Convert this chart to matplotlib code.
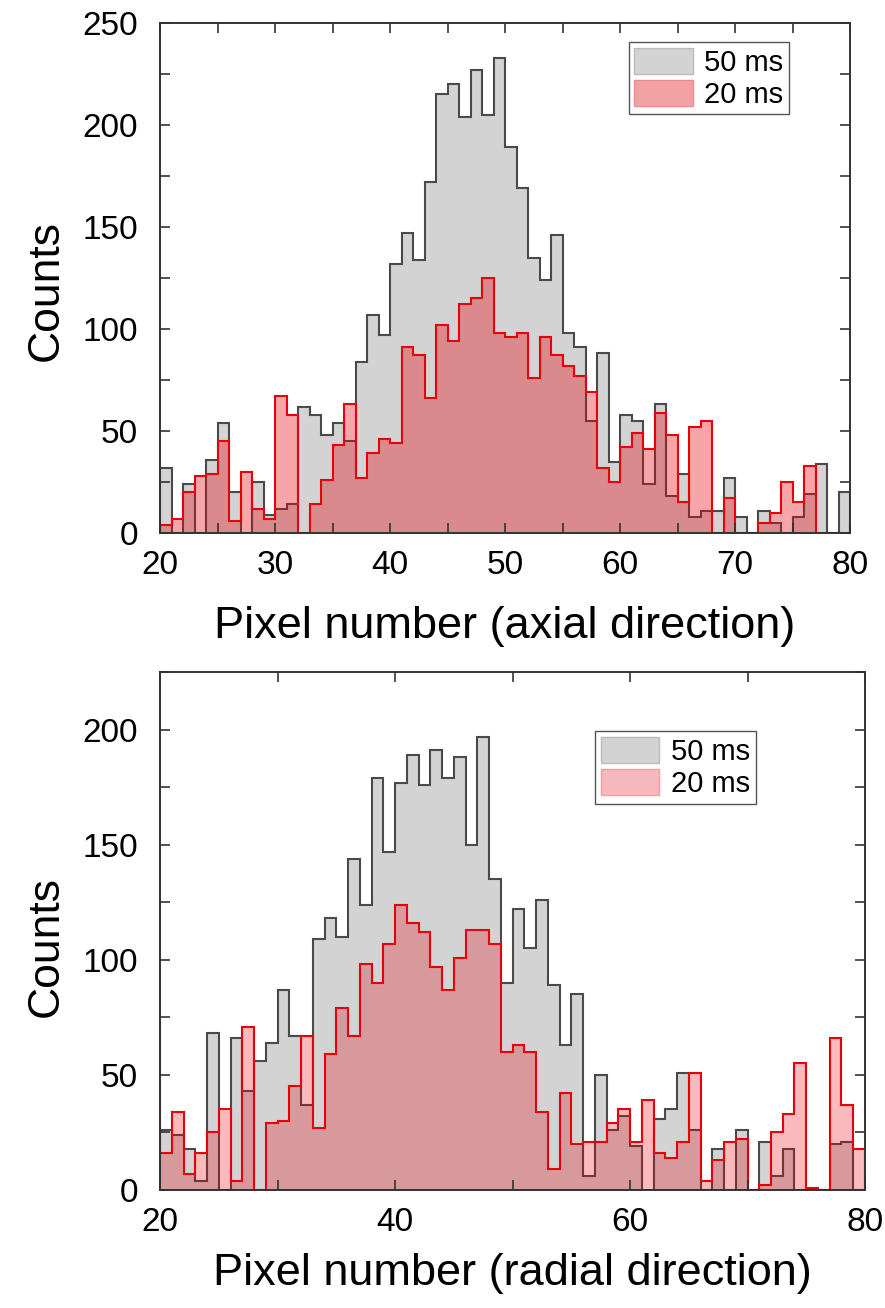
import numpy as np
import matplotlib
matplotlib.use("Agg")
import matplotlib.pyplot as plt
from matplotlib.patches import Patch
from matplotlib.ticker import MultipleLocator

plt.rcParams['font.family'] = ['Liberation Sans', 'DejaVu Sans']

# axial direction, one bin per pixel, first bin starts at pixel 20
axial_start = 20
axial_50ms = [32, 0, 24, 0, 36, 54, 20, 0, 25, 9,
              12, 14, 62, 58, 48, 54, 45, 84, 107, 97,
              132, 147, 134, 172, 215, 220, 204, 227, 205, 233,
              189, 169, 135, 124, 146, 98, 91, 55, 88, 35,
              58, 55, 24, 63, 18, 29, 8, 11, 11, 27,
              8, 0, 11, 5, 0, 8, 19, 34, 0, 20,
              0]
axial_20ms = [4, 7, 20, 28, 29, 45, 6, 30, 12, 7,
              67, 58, 0, 14, 26, 43, 63, 27, 39, 46,
              44, 91, 87, 66, 102, 94, 112, 115, 125, 98,
              96, 98, 76, 96, 87, 82, 77, 69, 32, 25,
              42, 49, 41, 59, 48, 15, 52, 55, 0, 17,
              0, 0, 5, 10, 25, 15, 33, 0, 0, 0,
              5]

# radial direction, first bin starts at pixel 19
radial_start = 19
radial_50ms = [0, 26, 24, 18, 4, 68, 0, 66, 43, 56,
               64, 87, 67, 37, 109, 118, 110, 144, 124, 179,
               147, 177, 189, 176, 191, 179, 188, 150, 197, 135,
               90, 122, 105, 126, 89, 63, 85, 6, 50, 26,
               32, 19, 0, 31, 35, 51, 26, 0, 18, 0,
               26, 0, 21, 6, 18, 0, 0, 0, 20, 21,
               0]
radial_20ms = [73, 16, 34, 7, 16, 25, 35, 4, 71, 0,
               29, 30, 45, 67, 27, 59, 79, 67, 98, 90,
               107, 124, 116, 112, 97, 87, 101, 113, 113, 107,
               60, 63, 60, 34, 9, 42, 20, 21, 21, 29,
               35, 21, 39, 16, 14, 21, 51, 4, 13, 21,
               22, 0, 2, 25, 33, 55, 1, 0, 66, 37,
               18]

labels = ["50 ms", "20 ms"]
gray_fill = "#d3d3d3"
gray_edge = "#4a4a4a"
red_edge = "#e8000b"


def draw_hist(ax, start, slow, fast, red_alpha):
    edges = np.arange(start, start + len(slow) + 1)
    ax.stairs(slow, edges, fill=True, color=gray_fill)
    ax.stairs(slow, edges, color=gray_edge, lw=1.5)
    ax.stairs(fast, edges, fill=True, color=red_edge, alpha=red_alpha, lw=0)
    ax.stairs(fast, edges, color=red_edge, lw=1.5)


def style_axes(ax, xmaj, xmin, ylim, label_y):
    ax.set_xlim(20, 80)
    ax.set_ylim(*ylim)
    ax.xaxis.set_major_locator(MultipleLocator(xmaj))
    ax.xaxis.set_minor_locator(MultipleLocator(xmin))
    ax.yaxis.set_major_locator(MultipleLocator(50))
    ax.yaxis.set_minor_locator(MultipleLocator(25))
    ax.tick_params(which='both', direction='in', top=True, right=True,
                   length=7, width=1.2, color='#333333')
    ax.tick_params(axis='x', which='major', labelsize=24, pad=12)
    ax.tick_params(axis='y', which='major', labelsize=24, pad=16)
    for s in ax.spines.values():
        s.set_linewidth(1.4)
        s.set_color('#333333')
    ax.set_ylabel("Counts", fontsize=32, labelpad=11)
    ax.yaxis.label.set_y(label_y)


fig = plt.figure(figsize=(8.85, 13.08), dpi=100)

ax1 = fig.add_axes([0.1808, 0.5925, 0.7797, 0.390])
draw_hist(ax1, axial_start, axial_50ms, axial_20ms, 0.35)
style_axes(ax1, 10, 5, (0, 250), 0.4745)
ax1.set_xlabel("Pixel number (axial direction)", fontsize=32.5, labelpad=18)
h1 = [Patch(facecolor=gray_fill, edgecolor='#bbbbbb'),
      Patch(facecolor='#f2a2a5', edgecolor='#f08a8e')]
ax1.legend(h1, labels, loc='upper right', bbox_to_anchor=(0.912, 0.963),
           fontsize=21, frameon=True, fancybox=False, edgecolor='#555555',
           framealpha=1, handlelength=2.0, handleheight=1.0,
           labelspacing=0.1, borderpad=0.2, handletextpad=0.4,
           borderaxespad=0)

ax2 = fig.add_axes([0.1808, 0.0902, 0.7966, 0.396])
draw_hist(ax2, radial_start, radial_50ms, radial_20ms, 0.27)
style_axes(ax2, 20, 10, (0, 225), 0.471)
ax2.set_xlabel("Pixel number (radial direction)", fontsize=32.5, labelpad=11)
h2 = [Patch(facecolor=gray_fill, edgecolor='#bbbbbb'),
      Patch(facecolor='#f5b8bb', edgecolor='#f0a0a4')]
ax2.legend(h2, labels, loc='upper right', bbox_to_anchor=(0.845, 0.886),
           fontsize=21, frameon=True, fancybox=False, edgecolor='#555555',
           framealpha=1, handlelength=2.0, handleheight=1.0,
           labelspacing=0.1, borderpad=0.2, handletextpad=0.4,
           borderaxespad=0)

fig.savefig("out.png", dpi=100)
